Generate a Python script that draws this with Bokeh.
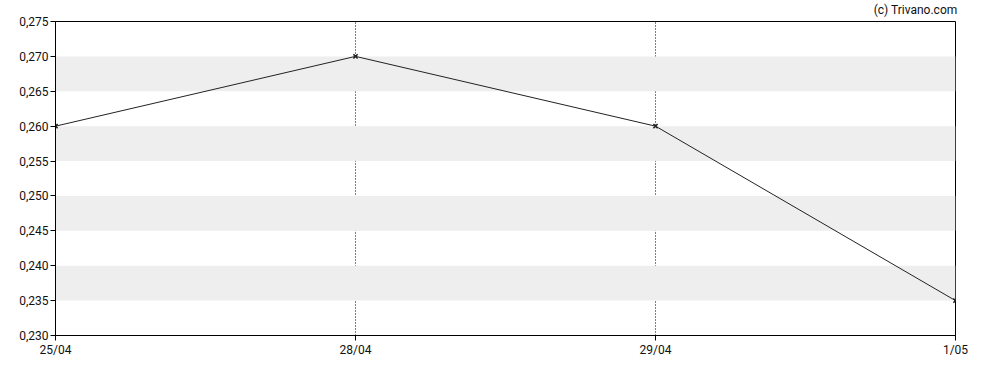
from bokeh.plotting import figure
from bokeh.models import FixedTicker, Title, ColumnDataSource
from bokeh.embed import file_html
from bokeh.resources import INLINE

# Data
dates = ["25/04", "28/04", "29/04", "1/05"]
prices = [0.260, 0.270, 0.260, 0.235]
y_ticks = [0.230, 0.235, 0.240, 0.245, 0.250, 0.255, 0.260, 0.265, 0.270, 0.275]
y_tick_labels = ["0,230", "0,235", "0,240", "0,245", "0,250", "0,255", "0,260", "0,265", "0,270", "0,275"]
band_bottoms = [0.235, 0.245, 0.255, 0.265]
band_tops = [0.240, 0.250, 0.260, 0.270]

xs = list(range(len(dates)))
FONT = "Roboto"

p = figure(width=980, height=362, output_backend="svg", toolbar_location=None,
           x_range=(0, len(dates) - 1), y_range=(y_ticks[0], y_ticks[-1]),
           min_border_left=55, min_border_right=25, min_border_top=20, min_border_bottom=27)

# background bands
p.quad(left=[xs[0]] * len(band_bottoms), right=[xs[-1]] * len(band_bottoms),
       bottom=band_bottoms, top=band_tops, fill_color="#eeeeee", line_color=None)

# grid
p.ygrid.grid_line_color = None
p.xgrid.ticker = FixedTicker(ticks=xs)
p.xgrid.grid_line_color = "black"
p.xgrid.grid_line_dash = "1 2"
p.xgrid.grid_line_width = 1

src = ColumnDataSource(dict(x=xs, y=prices))
p.line("x", "y", source=src, line_color="#222222", line_width=1)
p.scatter("x", "y", source=src, marker="x", size=6, line_color="#222222", line_width=1.6)

p.outline_line_color = "black"
p.outline_line_width = 1

for ax in (p.xaxis[0], p.yaxis[0]):
    ax.axis_line_color = "black"
    ax.major_tick_line_color = "black"
    ax.major_tick_out = 5
    ax.major_tick_in = 0
    ax.minor_tick_line_color = None
    ax.major_label_text_font = FONT
    ax.major_label_text_font_size = "12px"
    ax.major_label_text_color = "#111111"
    ax.major_label_standoff = 2

p.xaxis.ticker = FixedTicker(ticks=xs)
p.xaxis.major_label_overrides = {i: d for i, d in enumerate(dates)}
p.yaxis.ticker = FixedTicker(ticks=y_ticks)
p.yaxis.major_label_overrides = {t: l for t, l in zip(y_ticks, y_tick_labels)}

p.add_layout(Title(text="(c) Trivano.com", align="right", vertical_align="top", text_font=FONT,
                   text_font_size="12px", text_font_style="normal", text_color="#111111",
                   standoff=5, offset=-2), "above")

open("out.html", "w").write(file_html(p, INLINE))
